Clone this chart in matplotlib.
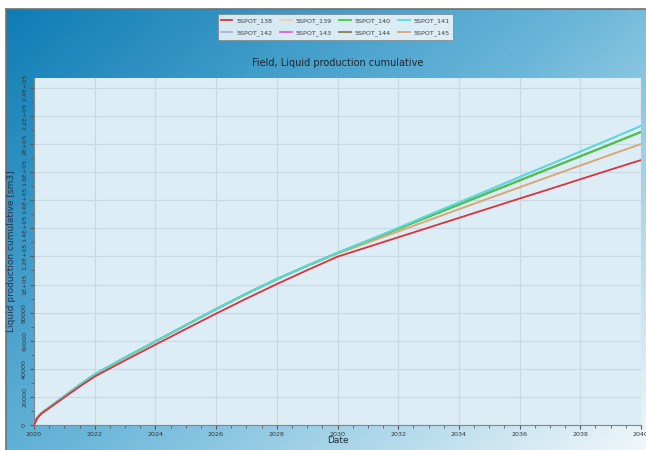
import numpy as np
import matplotlib.pyplot as plt
from matplotlib.colors import LinearSegmentedColormap
from matplotlib.ticker import MultipleLocator, FuncFormatter

# time axis in decimal years
years = [2020, 2020.1, 2020.25, 2020.5, 2020.75, 2021, 2021.5, 2022, 2023, 2024, 2025,
         2026, 2027, 2028, 2029, 2030, 2031, 2032, 2033, 2034, 2035, 2036, 2037,
         2038, 2039, 2040]

# cumulative liquid production per well case [sm3]
spot_138 = [0, 4800, 8200, 12000, 15800, 19700, 27300, 34500, 46000, 57200, 68300,
            79300, 90000, 100300, 110200, 119800, 126700, 133600, 140500, 147400,
            154300, 161200, 168000, 174900, 181800, 188600]
spot_140 = [0, 5000, 8500, 12500, 16500, 20500, 28500, 36000, 48000, 59500, 71000,
            82500, 93500, 103800, 113400, 122500, 131100, 139700, 148300, 156900,
            165500, 174100, 182700, 191300, 199900, 208600]
spot_141 = [0, 5000, 8500, 12500, 16500, 20500, 28500, 36000, 48000, 59500, 71000,
            82500, 93500, 103800, 113400, 122500, 131300, 140300, 149400, 158400,
            167400, 176500, 185500, 194600, 203700, 212900]
spot_145 = [0, 5000, 8500, 12500, 16500, 20500, 28500, 36000, 48000, 59500, 71000,
            82500, 93500, 103700, 113200, 122000, 129900, 137800, 145700, 153600,
            161400, 169200, 177000, 184700, 192400, 200000]
spot_139 = spot_145
spot_142 = spot_141
spot_143 = spot_140
spot_144 = spot_140

names = ["5SPOT_138", "5SPOT_139", "5SPOT_140", "5SPOT_141",
         "5SPOT_142", "5SPOT_143", "5SPOT_144", "5SPOT_145"]
series = [spot_138, spot_139, spot_140, spot_141, spot_142, spot_143, spot_144, spot_145]
colors = ["#d9343d", "#e6d3a8", "#3fcf3f", "#4fdfe0",
          "#b0b0d8", "#d860d8", "#8b7d55", "#d6a77a"]
zorders = [9, 3, 7, 8, 3, 3, 3, 6]

narrow = ["Liberation Sans Narrow", "DejaVu Sans"]

W, H = 646, 450
fig = plt.figure(figsize=(W / 100, H / 100), dpi=100, facecolor="white")

# gradient panel behind everything
bg = fig.add_axes([6 / W, 0, 640 / W, 441 / H], zorder=0)
gx, gy = np.meshgrid(np.linspace(0, 1, 320), np.linspace(0, 1, 220))
t = 0.55 * gx + 0.45 * gy
cmap = LinearSegmentedColormap.from_list(
    "panel", [(0, "#0e7db5"), (0.5, "#6ab6d9"), (1, "#f0f7fa")])
bg.imshow(t, cmap=cmap, aspect="auto", extent=[0, 1, 0, 1], origin="upper")
bg.set_xticks([])
bg.set_yticks([])
for side in ["right", "bottom"]:
    bg.spines[side].set_visible(False)
for side in ["left", "top"]:
    bg.spines[side].set_color("#707070")
    bg.spines[side].set_linewidth(1.2)

ax = fig.add_axes([34 / W, 25 / H, 607 / W, 347 / H], zorder=1)
ax.set_facecolor("#dcedf5")

for i in range(len(series)):
    ax.plot(years, series[i], color=colors[i], lw=1.3, zorder=zorders[i], label=names[i])

ax.set_xlim(2020, 2040)
ax.set_ylim(0, 247000)
ax.xaxis.set_major_locator(MultipleLocator(2))
ax.xaxis.set_minor_locator(MultipleLocator(0.5))
ax.yaxis.set_major_locator(MultipleLocator(20000))
ax.yaxis.set_minor_locator(MultipleLocator(10000))


def ylab(v, pos):
    if v < 100000:
        return "%d" % v
    s = "%g" % (v / 1e5)
    return s + "E+05"


ax.xaxis.set_major_formatter(FuncFormatter(lambda v, p: "%d" % v))
ax.yaxis.set_major_formatter(FuncFormatter(ylab))
ax.tick_params(axis="both", which="major", labelsize=4.6, colors="#505a60",
               labelcolor="#303840", length=3, width=0.8, pad=2)
ax.tick_params(axis="both", which="minor", colors="#505a60", length=2, width=0.6)
for lbl in ax.get_yticklabels() + ax.get_xticklabels():
    lbl.set_family(narrow)
for lbl in ax.get_yticklabels():
    lbl.set_rotation(90)
    lbl.set_va("center")
ax.grid(True, which="major", color="#c9d9e2", lw=0.8)
ax.set_axisbelow(True)
for side in ["top", "right"]:
    ax.spines[side].set_visible(False)
for side in ["left", "bottom"]:
    ax.spines[side].set_color("#7a8890")

ax.set_title("Field, Liquid production cumulative", fontsize=7, color="#1e2630", pad=9)
ax.set_xlabel("Date", fontsize=6.5, color="#1e2a36", va="center")
ax.set_ylabel("Liquid production cumulative [sm3]", fontsize=6.5, color="#1f3550")
ax.xaxis.set_label_coords(0.501, -0.046)
ax.yaxis.set_label_coords(-0.030, 0.5)

# legend filled row by row
handles, labels = ax.get_legend_handles_labels()
order = [0, 4, 1, 5, 2, 6, 3, 7]
leg = fig.legend([handles[k] for k in order], [labels[k] for k in order],
                 loc="center", bbox_to_anchor=(335.5 / W, 1 - 27 / H), ncol=4,
                 frameon=True, fancybox=False, handlelength=1.8,
                 columnspacing=1.2, handletextpad=0.6, borderpad=0.5, labelspacing=1.0,
                 prop={"family": narrow, "size": 4.6})
leg.get_frame().set_edgecolor("#808080")
leg.get_frame().set_linewidth(0.6)
for txt in leg.get_texts():
    txt.set_color("#404040")

fig.savefig("out.png", dpi=100)
